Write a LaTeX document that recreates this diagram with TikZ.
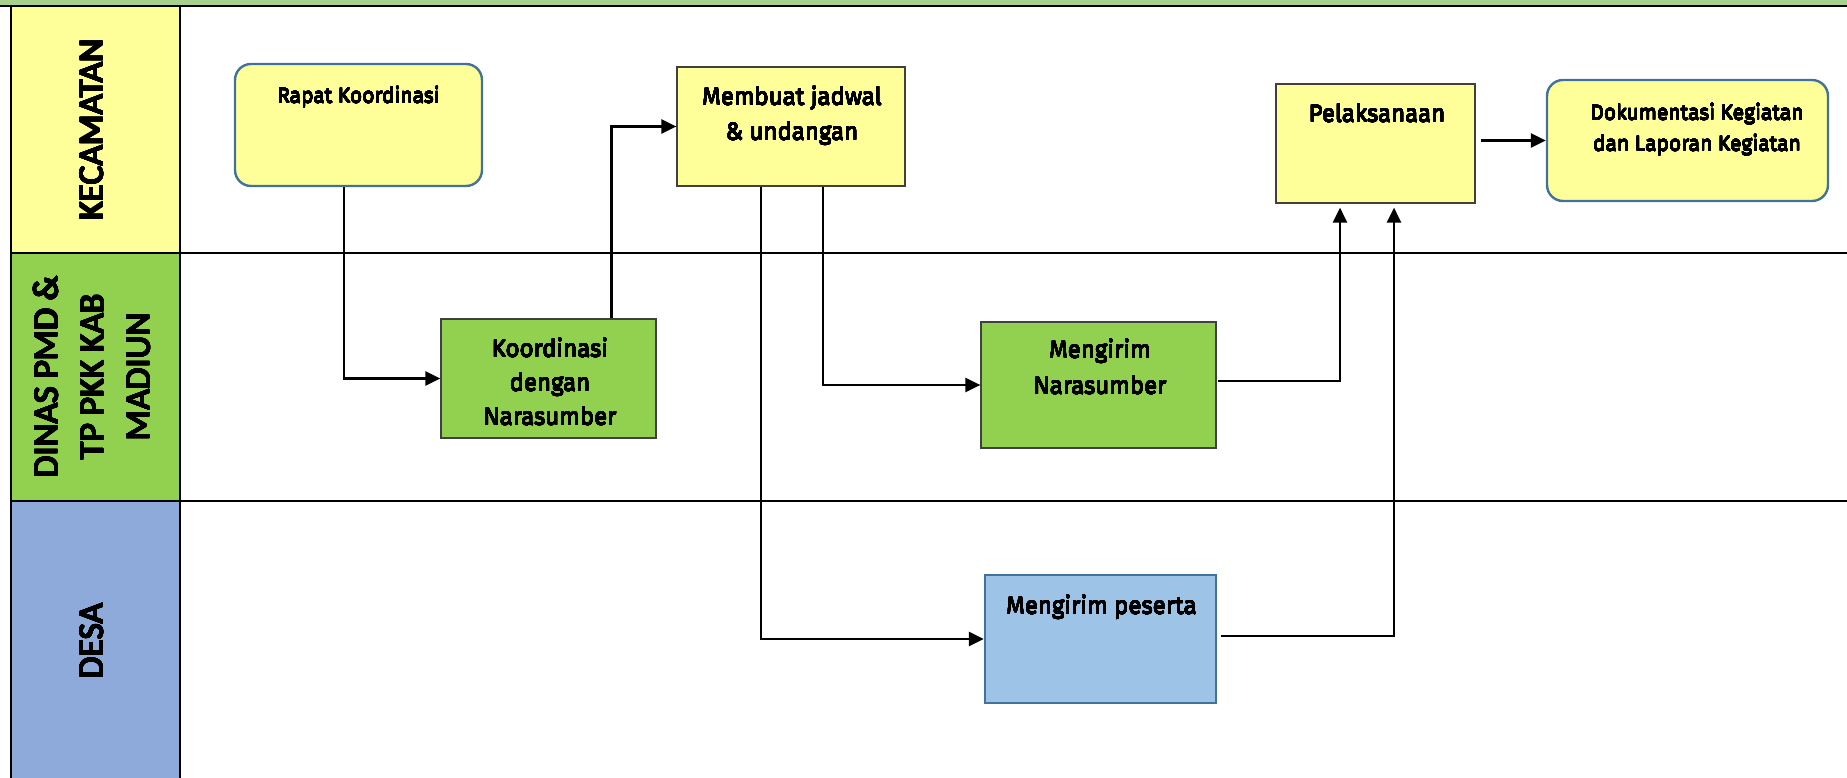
\documentclass[tikz,border=0pt]{standalone}
\usepackage{fontspec}
\usepackage{contour}
\setmainfont{Fira Sans}
\newfontfamily\lanefont{Carlito}
\usetikzlibrary{arrows.meta,calc}
\contournumber{24}
% text drawn with a thin black halo to give it more weight
\newcommand{\inked}[1]{\contour{black}{#1}}

\definecolor{topgreen}{HTML}{A9D18E}
\definecolor{laneyellow}{HTML}{FFFF99}
\definecolor{lanegreen}{HTML}{92D050}
\definecolor{laneblue}{HTML}{8EAADB}
\definecolor{nodeyellow}{HTML}{FFFF99}
\definecolor{nodegreen}{HTML}{92D050}
\definecolor{nodeblue}{HTML}{9DC3E6}
\definecolor{borderblue}{HTML}{41719C}

\begin{document}
\begin{tikzpicture}[x=1pt,y=-1pt,
  lanerule/.style={line width=2.4pt, black},
  lanetitle/.style={rotate=90, align=center, inner sep=0pt,
    font=\lanefont\fontsize{35.5}{46}\selectfont\contourlength{0.65pt}},
  box/.style={rectangle, inner sep=0pt},
  roundbox/.style={box, rounded corners=16pt, draw=borderblue, line width=2.4pt, fill=nodeyellow},
  yellowbox/.style={box, draw=black!75, line width=1.2pt, fill=nodeyellow},
  greenbox/.style={box, draw=black!75, line width=1.2pt, fill=nodegreen},
  bluebox/.style={box, draw=borderblue, line width=2.4pt, fill=nodeblue},
  txt/.style={anchor=base, inner sep=0pt, font=\fontsize{24}{24}\selectfont\contourlength{0.14pt}},
  smalltxt/.style={anchor=base, inner sep=0pt, font=\fontsize{21}{21}\selectfont\contourlength{0.12pt}},
  conn/.style={line width=2.6pt, -{Triangle[length=15pt,width=14pt]}},
]
\useasboundingbox (0,0) rectangle (1847,778);

% swimlane backgrounds
\fill[topgreen] (0,0) rectangle (1847,6);
\fill[laneyellow] (11,6) rectangle (180,253);
\fill[lanegreen] (11,253) rectangle (180,501);
\fill[laneblue] (11,501) rectangle (180,778);

% swimlane rules
\draw[lanerule] (0,6) -- (1847,6);
\draw[lanerule] (11,6) -- (11,778);
\draw[lanerule] (180,6) -- (180,778);
\draw[lanerule] (11,253) -- (1847,253);
\draw[lanerule] (11,501) -- (1847,501);

% lane titles
\node[lanetitle] (laneKec) at (92,130) {\inked{KECAMATAN}};
\node[lanetitle] (laneDinas) at (92,377) {\inked{DINAS PMD \&}\\\inked{TP PKK KAB}\\\inked{MADIUN}};
\node[lanetitle] (laneDesa) at (92,641) {\inked{DESA}};

% process boxes
\node[roundbox, minimum width=247pt, minimum height=122pt] (rapat) at (358.5,125) {};
\node[yellowbox, minimum width=228pt, minimum height=119pt] (jadwal) at (791,126.5) {};
\node[yellowbox, minimum width=199pt, minimum height=119pt] (pelak) at (1375.5,143.5) {};
\node[roundbox, minimum width=281pt, minimum height=121pt] (doku) at (1687.5,140.5) {};
\node[greenbox, minimum width=215pt, minimum height=119pt] (koord) at (548.5,378.5) {};
\node[greenbox, minimum width=235pt, minimum height=126pt] (narsum) at (1098.5,385) {};
\node[bluebox, minimum width=231pt, minimum height=128pt] (peserta) at (1100.5,639) {};

% box captions
\node[smalltxt] (rapatT) at (358.5,103) {\inked{Rapat Koordinasi}};
\node[txt] (jadwalT1) at (792,105) {\inked{Membuat jadwal}};
\node[txt] (jadwalT2) at (792,140) {\inked{\& undangan}};
\node[txt] (pelakT) at (1377,122) {\inked{Pelaksanaan}};
\node[smalltxt] (dokuT1) at (1697,120) {\inked{Dokumentasi Kegiatan}};
\node[smalltxt] (dokuT2) at (1697,151) {\inked{dan Laporan Kegiatan}};
\node[txt] (koordT1) at (550,357) {\inked{Koordinasi}};
\node[txt] (koordT2) at (550,391) {\inked{dengan}};
\node[txt] (koordT3) at (550,425) {\inked{Narasumber}};
\node[txt] (narsumT1) at (1100,358) {\inked{Mengirim}};
\node[txt] (narsumT2) at (1100,394) {\inked{Narasumber}};
\node[txt] (pesertaT) at (1101.5,614) {\inked{Mengirim peserta}};

% flow
\draw[conn] ([xshift=-14.5pt]rapat.south) |- (koord.west);
\draw[conn] ([xshift=63pt]koord.north) |- (jadwal.west);
\draw[conn] ([xshift=32pt]jadwal.south) |- (narsum.west);
\draw[conn] ([xshift=-30pt]jadwal.south) |- (peserta.west);
\draw[conn] ([xshift=1pt,yshift=4pt]narsum.east) -| ([xshift=-35.5pt,yshift=-4pt]pelak.south);
\draw[conn] ([xshift=4pt,yshift=3pt]peserta.east) -| ([xshift=18.5pt,yshift=-4pt]pelak.south);
\draw[conn] ([xshift=5pt]pelak.east |- doku.west) -- (doku.west);
\end{tikzpicture}
\end{document}
